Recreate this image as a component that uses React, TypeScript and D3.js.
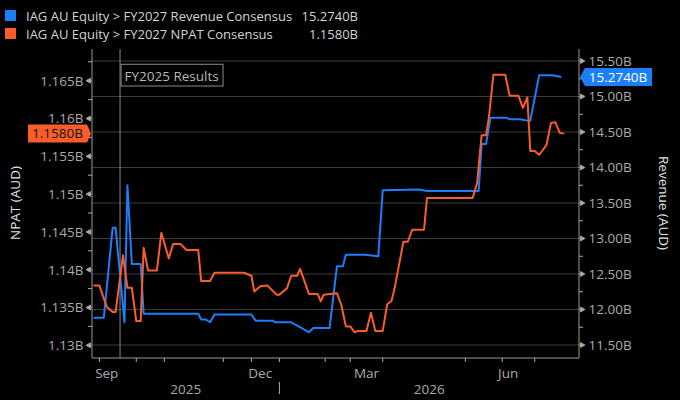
import React from "react";
import * as d3 from "d3";

// ---------- data ----------
const revenueDates = [
  "2025-08-28","2025-09-04","2025-09-10","2025-09-12","2025-09-18","2025-09-20","2025-09-23","2025-09-29",
  "2025-10-01","2025-11-07","2025-11-09","2025-11-12","2025-11-15","2025-11-18","2025-12-13","2025-12-16",
  "2025-12-28","2025-12-29","2026-01-09","2026-01-21","2026-01-24","2026-02-04","2026-02-09","2026-02-13",
  "2026-02-15","2026-02-28","2026-03-09","2026-03-12","2026-04-06","2026-04-11","2026-05-16","2026-05-18",
  "2026-05-21","2026-05-24","2026-06-04","2026-06-06","2026-06-13","2026-06-18","2026-06-20","2026-06-26",
  "2026-07-05","2026-07-11",
];
const revenueValues = [
  11.885, 11.885, 13.15, 13.15, 11.82, 13.75, 12.64, 12.64,
  11.94, 11.94, 11.86, 11.86, 11.82, 11.93, 11.93, 11.84,
  11.84, 11.82, 11.82, 11.68, 11.74, 11.74, 12.61, 12.61,
  12.77, 12.77, 12.75, 13.68, 13.69, 13.67, 13.67, 14.33,
  14.33, 14.70, 14.70, 14.68, 14.68, 14.66, 14.66, 15.30,
  15.30, 15.274,
];

const npatDates = [
  "2025-08-28","2025-09-01","2025-09-06","2025-09-10","2025-09-12","2025-09-17","2025-09-20","2025-09-23",
  "2025-09-26","2025-09-29","2025-10-01","2025-10-04","2025-10-10","2025-10-13","2025-10-18","2025-10-21",
  "2025-10-26","2025-10-30","2025-11-07","2025-11-09","2025-11-15","2025-11-18","2025-12-08","2025-12-13",
  "2025-12-15","2025-12-19","2025-12-24","2025-12-30","2026-01-01","2026-01-06","2026-01-09","2026-01-13",
  "2026-01-15","2026-01-21","2026-01-27","2026-01-29","2026-01-31","2026-02-09","2026-02-12","2026-02-15",
  "2026-02-18","2026-02-21","2026-02-23","2026-03-01","2026-03-04","2026-03-07","2026-03-12","2026-03-15",
  "2026-03-18","2026-03-20","2026-03-26","2026-03-29","2026-04-01","2026-04-09","2026-04-11","2026-05-12",
  "2026-05-15","2026-05-18","2026-05-21","2026-05-23","2026-05-26","2026-06-03","2026-06-06","2026-06-12",
  "2026-06-15","2026-06-18","2026-06-20","2026-06-23","2026-06-26","2026-06-28","2026-07-01","2026-07-04",
  "2026-07-07","2026-07-10","2026-07-13",
];
const npatValues = [
  1.1379, 1.1379, 1.1351, 1.1344, 1.1344, 1.1419, 1.1376, 1.1376,
  1.1332, 1.1332, 1.1429, 1.1399, 1.1399, 1.1449, 1.1415, 1.1434,
  1.1434, 1.1426, 1.1426, 1.1385, 1.1385, 1.1396, 1.1396, 1.1392,
  1.1371, 1.1378, 1.1379, 1.1367, 1.1367, 1.1375, 1.1392, 1.1392,
  1.1401, 1.1368, 1.1368, 1.1358, 1.1367, 1.1369, 1.1353, 1.1325,
  1.1325, 1.1317, 1.1319, 1.1319, 1.1343, 1.1319, 1.1319, 1.1354,
  1.1359, 1.1375, 1.1437, 1.1437, 1.1453, 1.1453, 1.1495, 1.1495,
  1.1515, 1.1578, 1.1578, 1.1602, 1.1658, 1.1658, 1.1630, 1.1630,
  1.1614, 1.1628, 1.1557, 1.1557, 1.1552, 1.1557, 1.1565, 1.1594,
  1.1595, 1.1581, 1.1580,
];

const revenueLast = 15.274;
const npatLast = 1.158;

const xDomain = ["2025-08-27", "2026-07-23"];
const xTickDates = [
  "2025-09-01","2025-09-26","2025-10-15","2025-11-24","2025-12-13","2026-01-01",
  "2026-02-01","2026-02-18","2026-03-12","2026-05-07","2026-06-01","2026-06-23",
];
const monthLabels = ["Sep", "Dec", "Mar", "Jun"];
const monthLabelDates = ["2025-09-06", "2025-12-19", "2026-03-01", "2026-06-05"];
const yearLabels = ["2025", "2026"];
const yearBoundary = "2026-01-01";

const leftTicks = [1.13, 1.135, 1.14, 1.145, 1.15, 1.155, 1.16, 1.165];
const leftTickLabels = ["1.13B","1.135B","1.14B","1.145B","1.15B","1.155B","1.16B","1.165B"];
const leftMinor = [1.1325, 1.1375, 1.1425, 1.1475, 1.1525, 1.1575, 1.1625, 1.1675];
const rightTicks = [11.5, 12, 12.5, 13, 13.5, 14, 14.5, 15, 15.5];
const rightTickLabels = ["11.50B","12.00B","12.50B","13.00B","13.50B","14.00B","14.50B","15.00B","15.50B"];
const rightMinor = [11.75, 12.25, 12.75, 13.25, 13.75, 14.25, 14.75, 15.25];

const eventDate = "2025-09-15";
const eventLabel = "FY2025 Results";

const legendNames = [
  "IAG AU Equity > FY2027 Revenue Consensus",
  "IAG AU Equity > FY2027 NPAT Consensus",
];

// ---------- styling ----------
const BLUE = "#1a7ff8";
const ORANGE = "#fa5d2a";
const FONT = "'Open Sans', 'Noto Sans', sans-serif";
const TICK_COL = "#ababab";
const AXIS_COL = "#9a9a9a";
const GRID_COL = "#3d3d3d";

const W = 680, H = 400;
const L = 92, R = 579, T = 49, B = 358;

const parse = d3.timeParse("%Y-%m-%d");

export default function App() {
  const x = d3.scaleTime().domain(xDomain.map((d) => parse(d)!)).range([L, R]);
  const yL = d3.scaleLinear().domain([1.13, 1.165]).range([345.3, 80.7]);
  const yR = d3.scaleLinear().domain([11.5, 15.5]).range([345, 61]);

  const rev = revenueDates.map((d, i) => ({ date: parse(d)!, v: revenueValues[i] }));
  const npat = npatDates.map((d, i) => ({ date: parse(d)!, v: npatValues[i] }));

  const revLine = d3.line<{ date: Date; v: number }>().x((d) => x(d.date)).y((d) => yR(d.v));
  const npatLine = d3.line<{ date: Date; v: number }>().x((d) => x(d.date)).y((d) => yL(d.v));

  const ex = x(parse(eventDate)!);
  const yb = x(parse(yearBoundary)!);
  const yearCenters = [(L + yb) / 2, (yb + R) / 2];

  const oy = yL(npatLast);
  const by = yR(revenueLast);

  return (
    <svg width={W} height={H} style={{ position: "absolute", left: 0, top: 0, display: "block" }} fontFamily={FONT}>
      <rect x={0} y={0} width={W} height={H} fill="#000" />

      {/* legend */}
      {legendNames.map((n, i) => (
        <g key={n}>
          <rect x={5} y={10 + i * 18} width={11} height={11} fill={i === 0 ? BLUE : ORANGE} />
          <text x={26} y={20.8 + i * 18} fontSize={13} fill="#d4d4d4">{n}</text>
          <text x={358} y={20.8 + i * 18} fontSize={13} fill="#d4d4d4" textAnchor="end">
            {i === 0 ? revenueLast.toFixed(4) + "B" : npatLast.toFixed(4) + "B"}
          </text>
        </g>
      ))}

      {/* grid */}
      {rightTicks.map((t) => (
        <line key={"g" + t} x1={L} x2={R} y1={yR(t)} y2={yR(t)} stroke={GRID_COL} strokeWidth={1} />
      ))}

      {/* event line */}
      <line x1={ex} x2={ex} y1={T} y2={B} stroke="#8a8a8a" strokeWidth={1} />
      <rect x={ex + 1} y={64.3} width={102} height={21.7} fill="#000" stroke="#8a8a8a" strokeWidth={1} />
      <text x={ex + 4.5} y={80.8} fontSize={13.5} fill="#b8b8b8">{eventLabel}</text>

      {/* axes frame */}
      <line x1={L} x2={L} y1={T} y2={B} stroke={AXIS_COL} />
      <line x1={R} x2={R} y1={T} y2={B} stroke={AXIS_COL} />
      <line x1={L} x2={R} y1={B} y2={B} stroke={AXIS_COL} />

      {/* left ticks */}
      {leftTicks.map((t, i) => (
        <g key={"l" + t}>
          <path d={`M${L - 6},${yL(t)} L${L - 1.5},${yL(t) - 2.5} L${L - 1.5},${yL(t) + 2.5} Z M${L - 2},${yL(t)} H${L}`} fill={TICK_COL} stroke={TICK_COL} strokeWidth={0.8} />
          <text x={83.5} y={yL(t)} dy="0.36em" fontSize={13.5} fill={TICK_COL} textAnchor="end">{leftTickLabels[i]}</text>
        </g>
      ))}
      {leftMinor.map((t) => (
        <line key={"lm" + t} x1={L - 4} x2={L} y1={yL(t)} y2={yL(t)} stroke={TICK_COL} />
      ))}

      {/* right ticks */}
      {rightTicks.map((t, i) => (
        <g key={"r" + t}>
          <path d={`M${R + 6},${yR(t)} L${R + 1.5},${yR(t) - 2.5} L${R + 1.5},${yR(t) + 2.5} Z M${R},${yR(t)} H${R + 2}`} fill={TICK_COL} stroke={TICK_COL} strokeWidth={0.8} />
          <text x={588.5} y={yR(t)} dy="0.36em" fontSize={13.5} fill={TICK_COL}>{rightTickLabels[i]}</text>
        </g>
      ))}
      {rightMinor.map((t) => (
        <line key={"rm" + t} x1={R} x2={R + 4} y1={yR(t)} y2={yR(t)} stroke={TICK_COL} />
      ))}

      {/* bottom ticks */}
      {xTickDates.map((d) => (
        <line key={d} x1={x(parse(d)!)} x2={x(parse(d)!)} y1={B} y2={B + 4} stroke={TICK_COL} />
      ))}
      {monthLabels.map((m, i) => (
        <text key={m} x={x(parse(monthLabelDates[i])!)} y={378} fontSize={13.5} fill={TICK_COL} textAnchor="middle">{m}</text>
      ))}
      {yearLabels.map((yl, i) => (
        <text key={yl} x={yearCenters[i]} y={394} fontSize={13.5} fill={TICK_COL} textAnchor="middle">{yl}</text>
      ))}
      <line x1={yb} x2={yb} y1={382} y2={394} stroke={TICK_COL} />

      {/* axis titles */}
      <text transform={`translate(20,203) rotate(-90)`} fontSize={13.5} fill="#e2e2e2" textAnchor="middle">NPAT (AUD)</text>
      <text transform={`translate(659,203) rotate(90)`} fontSize={13.5} fill="#e2e2e2" textAnchor="middle">Revenue (AUD)</text>

      {/* series */}
      <path d={revLine(rev)!} fill="none" stroke={BLUE} strokeWidth={2} strokeLinejoin="round" />
      <path d={npatLine(npat)!} fill="none" stroke={ORANGE} strokeWidth={2} strokeLinejoin="round" />

      {/* last value tags */}
      <path d={`M${L - 1},${oy} L${L - 5},${oy - 9} H28 V${oy + 9} H${L - 5} Z`} fill={ORANGE} />
      <text x={57.5} y={oy} dy="0.36em" fontSize={13.5} fill="#111" textAnchor="middle">{npatLast.toFixed(4) + "B"}</text>
      <path d={`M${R + 1},${by} L${R + 6},${by - 9} H652 V${by + 9} H${R + 6} Z`} fill={BLUE} />
      <text x={618} y={by} dy="0.36em" fontSize={13.5} fill="#fff" textAnchor="middle">{revenueLast.toFixed(4) + "B"}</text>
    </svg>
  );
}
